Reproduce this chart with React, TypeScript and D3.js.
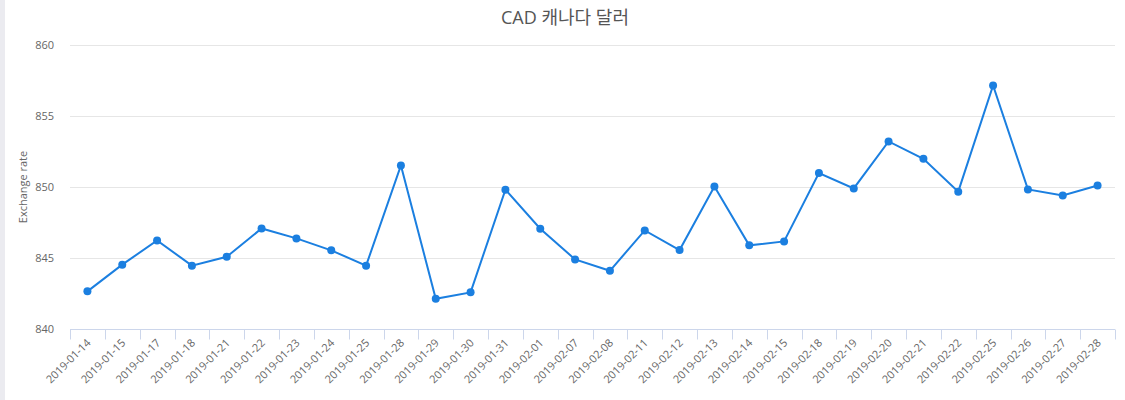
import React, { useEffect, useRef } from "react";
import * as d3 from "d3";

const dates = [
  "2019-01-14", "2019-01-15", "2019-01-17", "2019-01-18", "2019-01-21",
  "2019-01-22", "2019-01-23", "2019-01-24", "2019-01-25", "2019-01-28",
  "2019-01-29", "2019-01-30", "2019-01-31", "2019-02-01", "2019-02-07",
  "2019-02-08", "2019-02-11", "2019-02-12", "2019-02-13", "2019-02-14",
  "2019-02-15", "2019-02-18", "2019-02-19", "2019-02-20", "2019-02-21",
  "2019-02-22", "2019-02-25", "2019-02-26", "2019-02-27", "2019-02-28",
];
const rates = [
  842.65, 844.53, 846.24, 844.46, 845.09, 847.08, 846.38, 845.54, 844.46, 851.52,
  842.13, 842.58, 849.81, 847.06, 844.9, 844.1, 846.94, 845.56, 850.04, 845.89,
  846.17, 850.98, 849.9, 853.21, 851.99, 849.67, 857.15, 849.83, 849.41, 850.11,
];
const yTicks = [840, 845, 850, 855, 860];

const W = 1125, H = 400;
const margin = { top: 45, right: 10, bottom: 71, left: 70 };
const font = "'Open Sans', 'Noto Sans', 'Noto Sans CJK KR', sans-serif";

function App() {
  const ref = useRef<SVGSVGElement>(null);

  useEffect(() => {
    const svg = d3.select(ref.current);
    svg.selectAll("*").remove();

    const x = d3.scaleBand().domain(dates).range([margin.left, W - margin.right]);
    const y = d3.scaleLinear().domain([840, 860]).range([H - margin.bottom, margin.top]);

    // left strip
    svg.append("rect").attr("x", 0).attr("y", 0).attr("width", 5).attr("height", H).attr("fill", "#ebebf0");

    // title
    svg.append("text")
      .attr("x", 565).attr("y", 24)
      .attr("text-anchor", "middle")
      .style("font-family", font).style("font-size", "18px").attr("fill", "#555")
      .text("CAD 캐나다 달러");

    // grid + y labels
    const grid = svg.append("g");
    yTicks.forEach((t) => {
      if (t !== 840) {
        grid.append("line")
          .attr("x1", margin.left).attr("x2", W - margin.right)
          .attr("y1", Math.round(y(t)) + 0.5).attr("y2", Math.round(y(t)) + 0.5)
          .attr("stroke", "#e6e6e6");
      }
      grid.append("text")
        .attr("x", 54).attr("y", y(t) + 4)
        .attr("text-anchor", "end")
        .style("font-family", font).style("font-size", "11px").attr("fill", "#666")
        .text(t);
    });

    svg.append("text")
      .attr("transform", `translate(27,${(margin.top + H - margin.bottom) / 2}) rotate(-90)`)
      .attr("text-anchor", "middle")
      .style("font-family", font).style("font-size", "11px").attr("fill", "#666")
      .text("Exchange rate");

    // x axis
    const xa = svg.append("g").attr("transform", `translate(0,${Math.round(y(840)) + 0.5})`);
    xa.append("line").attr("x1", margin.left).attr("x2", W - margin.right).attr("stroke", "#ccd6eb");
    const bounds = dates.map((d) => x(d)!).concat([W - margin.right]);
    bounds.forEach((b) => {
      xa.append("line")
        .attr("x1", Math.round(b) + 0.5).attr("x2", Math.round(b) + 0.5)
        .attr("y1", 0).attr("y2", 10)
        .attr("stroke", "#ccd6eb");
    });
    dates.forEach((d) => {
      const cx = x(d)! + x.bandwidth() / 2;
      xa.append("text")
        .attr("transform", `translate(${cx + 4},${14}) rotate(-45)`)
        .attr("text-anchor", "end")
        .style("font-family", font).style("font-size", "11px").attr("fill", "#666")
        .text(d);
    });

    // line
    const pts: [number, number][] = dates.map((d, i) => [x(d)! + x.bandwidth() / 2, y(rates[i])]);
    svg.append("path")
      .attr("d", d3.line()(pts))
      .attr("fill", "none")
      .attr("stroke", "#1b7fe0")
      .attr("stroke-width", 2);
    svg.append("g").selectAll("circle")
      .data(pts)
      .join("circle")
      .attr("cx", (p) => p[0]).attr("cy", (p) => p[1]).attr("r", 4)
      .attr("fill", "#1b7fe0");
  }, []);

  return (
    <div style={{ position: "absolute", left: 0, top: 0 }}>
      <svg ref={ref} width={W} height={H} style={{ display: "block", background: "#fff" }} />
    </div>
  );
}

export default App;
